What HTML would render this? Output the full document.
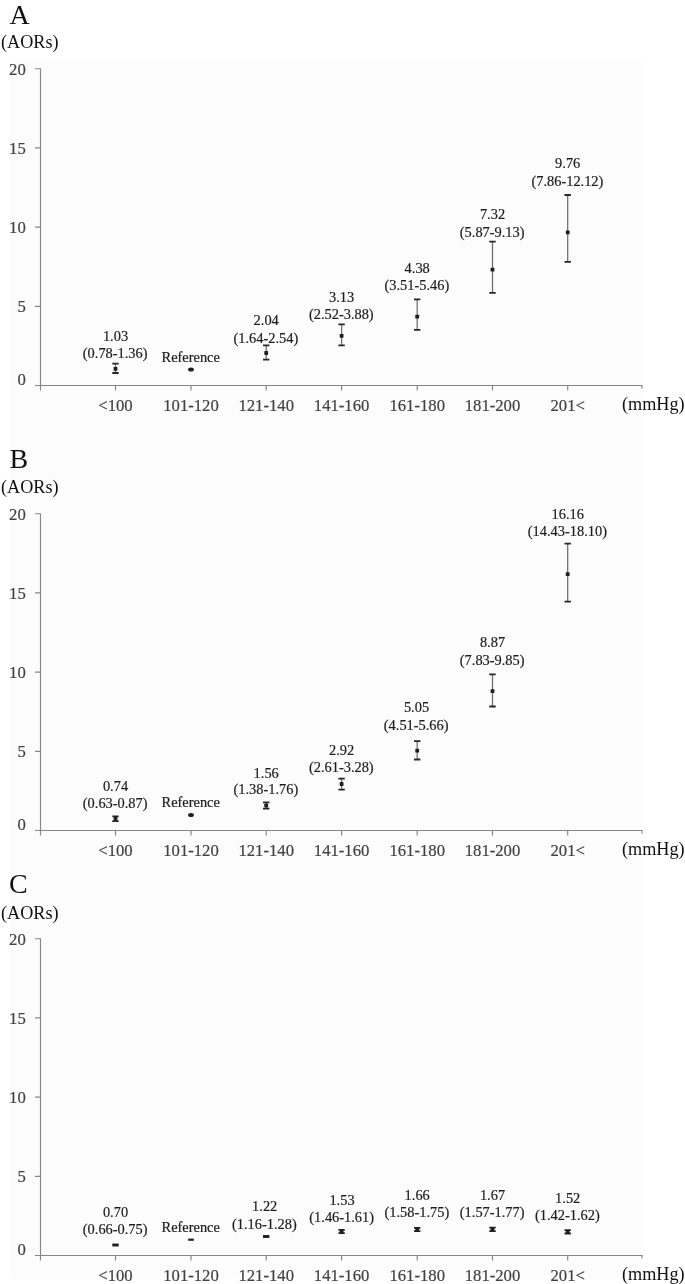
<!DOCTYPE html>
<html lang="en"><head><meta charset="utf-8"><title>AORs by blood pressure category</title>
<style>
html,body{margin:0;padding:0;background:#fff;}
body{width:685px;height:1284px;overflow:hidden;}
svg{display:block;font-family:"Liberation Serif","DejaVu Serif",serif;}
.pl{font-size:28px;fill:#111;}
.ul{font-size:18.2px;fill:#111;}
.ax{font-size:16.7px;fill:#424242;stroke:#424242;stroke-width:0.2px;}
.dl{font-size:14.4px;fill:#1c1c1c;stroke:#1c1c1c;stroke-width:0.2px;text-anchor:middle;}
.axl{stroke:#868686;stroke-width:1.15;fill:none;}
.eb{stroke:#6c6c6c;stroke-width:1.25;fill:none;}
.cap{stroke:#262626;stroke-width:1.8;fill:none;}
.mk{fill:#1e1e1e;}
</style></head><body>
<svg width="685" height="1284" viewBox="0 0 685 1284">
<rect x="10" y="62" width="632.5" height="1217" fill="#fcfcfc"/>
<g>
<text class="pl" x="9.5" y="24.0">A</text>
<text class="ul" x="1" y="48.4">(AORs)</text>
<path class="axl" d="M40.5 68.5V390.5M35.0 385.5H642.5"/>
<path class="axl" d="M35.0 306.3H40.5M35.0 227.1H40.5M35.0 147.9H40.5M35.0 68.7H40.5"/>
<path class="axl" d="M115.5 385.5V390.5M191.0 385.5V390.5M266.2 385.5V390.5M341.6 385.5V390.5M417.2 385.5V390.5M492.5 385.5V390.5M567.7 385.5V390.5M642.0 385.5V388.5"/>
<text class="ax" x="25.8" y="385.3" text-anchor="end">0</text>
<text class="ax" x="25.8" y="312.2" text-anchor="end">5</text>
<text class="ax" x="25.8" y="233.0" text-anchor="end">10</text>
<text class="ax" x="25.8" y="153.8" text-anchor="end">15</text>
<text class="ax" x="25.8" y="74.6" text-anchor="end">20</text>
<text class="ax" x="115.5" y="410.7" text-anchor="middle">&lt;100</text>
<text class="ax" x="191.0" y="410.7" text-anchor="middle">101-120</text>
<text class="ax" x="266.2" y="410.7" text-anchor="middle">121-140</text>
<text class="ax" x="341.6" y="410.7" text-anchor="middle">141-160</text>
<text class="ax" x="417.2" y="410.7" text-anchor="middle">161-180</text>
<text class="ax" x="492.5" y="410.7" text-anchor="middle">181-200</text>
<text class="ax" x="567.7" y="410.7" text-anchor="middle">201&lt;</text>
<text class="ul" x="622" y="410.3">(mmHg)</text>
<text class="dl" x="115.5" y="340.5">1.03</text>
<text class="dl" x="115.2" y="357.7">(0.78-1.36)</text>
<path class="eb" d="M115.5 363.7V373.0"/>
<path class="cap" d="M112.3 363.7H118.7M112.3 373.0H118.7"/>
<rect class="mk" x="113.6" y="367.0" width="3.8" height="3.8" rx="0.6"/>
<text class="dl" x="190.7" y="362.1">Reference</text>
<ellipse class="mk" cx="191.0" cy="369.5" rx="2.9" ry="2.05"/>
<text class="dl" x="266.2" y="325.0">2.04</text>
<text class="dl" x="265.9" y="342.6">(1.64-2.54)</text>
<path class="eb" d="M266.2 345.3V359.7"/>
<path class="cap" d="M263.0 345.3H269.4M263.0 359.7H269.4"/>
<rect class="mk" x="264.3" y="351.1" width="3.8" height="3.8" rx="0.6"/>
<text class="dl" x="341.6" y="301.5">3.13</text>
<text class="dl" x="341.3" y="318.6">(2.52-3.88)</text>
<path class="eb" d="M341.6 324.3V345.3"/>
<path class="cap" d="M338.4 324.3H344.8M338.4 345.3H344.8"/>
<rect class="mk" x="339.7" y="333.9" width="3.8" height="3.8" rx="0.6"/>
<text class="dl" x="417.2" y="272.5">4.38</text>
<text class="dl" x="416.9" y="289.5">(3.51-5.46)</text>
<path class="eb" d="M417.2 299.4V329.9"/>
<path class="cap" d="M414.0 299.4H420.4M414.0 329.9H420.4"/>
<rect class="mk" x="415.3" y="314.7" width="3.8" height="3.8" rx="0.6"/>
<text class="dl" x="492.5" y="218.7">7.32</text>
<text class="dl" x="492.2" y="236.7">(5.87-9.13)</text>
<path class="eb" d="M492.5 241.7V292.8"/>
<path class="cap" d="M489.3 241.7H495.7M489.3 292.8H495.7"/>
<rect class="mk" x="490.6" y="267.8" width="3.8" height="3.8" rx="0.6"/>
<text class="dl" x="567.7" y="168.4">9.76</text>
<text class="dl" x="567.4" y="185.7">(7.86-12.12)</text>
<path class="eb" d="M567.7 195.0V261.8"/>
<path class="cap" d="M564.5 195.0H570.9M564.5 261.8H570.9"/>
<rect class="mk" x="565.8" y="230.4" width="3.8" height="3.8" rx="0.6"/>
</g>
<g>
<text class="pl" x="9.5" y="467.7">B</text>
<text class="ul" x="1" y="493.4">(AORs)</text>
<path class="axl" d="M40.5 513.5V835.5M35.0 830.5H642.5"/>
<path class="axl" d="M35.0 751.3H40.5M35.0 672.1H40.5M35.0 592.9H40.5M35.0 513.7H40.5"/>
<path class="axl" d="M115.5 830.5V835.5M191.0 830.5V835.5M266.2 830.5V835.5M341.6 830.5V835.5M417.2 830.5V835.5M492.5 830.5V835.5M567.7 830.5V835.5M642.0 830.5V833.5"/>
<text class="ax" x="25.8" y="830.3" text-anchor="end">0</text>
<text class="ax" x="25.8" y="757.2" text-anchor="end">5</text>
<text class="ax" x="25.8" y="678.0" text-anchor="end">10</text>
<text class="ax" x="25.8" y="598.8" text-anchor="end">15</text>
<text class="ax" x="25.8" y="519.6" text-anchor="end">20</text>
<text class="ax" x="115.5" y="855.7" text-anchor="middle">&lt;100</text>
<text class="ax" x="191.0" y="855.7" text-anchor="middle">101-120</text>
<text class="ax" x="266.2" y="855.7" text-anchor="middle">121-140</text>
<text class="ax" x="341.6" y="855.7" text-anchor="middle">141-160</text>
<text class="ax" x="417.2" y="855.7" text-anchor="middle">161-180</text>
<text class="ax" x="492.5" y="855.7" text-anchor="middle">181-200</text>
<text class="ax" x="567.7" y="855.7" text-anchor="middle">201&lt;</text>
<text class="ul" x="622" y="855.3">(mmHg)</text>
<text class="dl" x="115.5" y="791.0">0.74</text>
<text class="dl" x="115.2" y="807.9">(0.63-0.87)</text>
<path class="eb" d="M115.5 816.3V821.2"/>
<path class="cap" d="M112.3 816.3H118.7M112.3 821.2H118.7"/>
<rect class="mk" x="113.6" y="816.8" width="3.8" height="3.8" rx="0.6"/>
<text class="dl" x="190.7" y="806.8">Reference</text>
<ellipse class="mk" cx="191.0" cy="815.0" rx="2.9" ry="2.05"/>
<text class="dl" x="266.2" y="777.5">1.56</text>
<text class="dl" x="265.9" y="794.1">(1.38-1.76)</text>
<path class="eb" d="M266.2 802.3V808.6"/>
<path class="cap" d="M263.0 802.3H269.4M263.0 808.6H269.4"/>
<rect class="mk" x="264.3" y="803.6" width="3.8" height="3.8" rx="0.6"/>
<text class="dl" x="341.6" y="755.2">2.92</text>
<text class="dl" x="341.3" y="772.4">(2.61-3.28)</text>
<path class="eb" d="M341.6 778.7V789.6"/>
<path class="cap" d="M338.4 778.7H344.8M338.4 789.6H344.8"/>
<rect class="mk" x="339.7" y="782.1" width="3.8" height="3.8" rx="0.6"/>
<text class="dl" x="416.5" y="712.1">5.05</text>
<text class="dl" x="416.2" y="729.6">(4.51-5.66)</text>
<path class="eb" d="M417.2 741.2V759.5"/>
<path class="cap" d="M414.0 741.2H420.4M414.0 759.5H420.4"/>
<rect class="mk" x="415.3" y="748.8" width="3.8" height="3.8" rx="0.6"/>
<text class="dl" x="492.5" y="647.3">8.87</text>
<text class="dl" x="492.2" y="664.8">(7.83-9.85)</text>
<path class="eb" d="M492.5 674.3V706.5"/>
<path class="cap" d="M489.3 674.3H495.7M489.3 706.5H495.7"/>
<rect class="mk" x="490.6" y="689.2" width="3.8" height="3.8" rx="0.6"/>
<text class="dl" x="567.7" y="518.7">16.16</text>
<text class="dl" x="567.4" y="536.3">(14.43-18.10)</text>
<path class="eb" d="M567.7 543.6V601.7"/>
<path class="cap" d="M564.5 543.6H570.9M564.5 601.7H570.9"/>
<rect class="mk" x="565.8" y="572.2" width="3.8" height="3.8" rx="0.6"/>
</g>
<g>
<text class="pl" x="9.0" y="893.3">C</text>
<text class="ul" x="1" y="918.6999999999999">(AORs)</text>
<path class="axl" d="M40.5 938.5V1260.5M35.0 1255.5H642.5"/>
<path class="axl" d="M35.0 1176.3H40.5M35.0 1097.1H40.5M35.0 1017.9H40.5M35.0 938.7H40.5"/>
<path class="axl" d="M115.5 1255.5V1260.5M191.0 1255.5V1260.5M266.2 1255.5V1260.5M341.6 1255.5V1260.5M417.2 1255.5V1260.5M492.5 1255.5V1260.5M567.7 1255.5V1260.5M642.0 1255.5V1258.5"/>
<text class="ax" x="25.8" y="1255.3" text-anchor="end">0</text>
<text class="ax" x="25.8" y="1182.2" text-anchor="end">5</text>
<text class="ax" x="25.8" y="1103.0" text-anchor="end">10</text>
<text class="ax" x="25.8" y="1023.8" text-anchor="end">15</text>
<text class="ax" x="25.8" y="944.6" text-anchor="end">20</text>
<text class="ax" x="115.5" y="1280.7" text-anchor="middle">&lt;100</text>
<text class="ax" x="191.0" y="1280.7" text-anchor="middle">101-120</text>
<text class="ax" x="266.2" y="1280.7" text-anchor="middle">121-140</text>
<text class="ax" x="341.6" y="1280.7" text-anchor="middle">141-160</text>
<text class="ax" x="417.2" y="1280.7" text-anchor="middle">161-180</text>
<text class="ax" x="492.5" y="1280.7" text-anchor="middle">181-200</text>
<text class="ax" x="567.7" y="1280.7" text-anchor="middle">201&lt;</text>
<text class="ul" x="622" y="1280.3">(mmHg)</text>
<text class="dl" x="115.5" y="1216.5">0.70</text>
<text class="dl" x="115.2" y="1234.1">(0.66-0.75)</text>
<rect class="mk" x="112.3" y="1243.55" width="6.4" height="2.9"/>
<text class="dl" x="190.7" y="1231.6">Reference</text>
<rect class="mk" x="188.2" y="1238.6" width="5.6" height="2.2"/>
<text class="dl" x="264.7" y="1210.6">1.22</text>
<text class="dl" x="264.4" y="1228.8">(1.16-1.28)</text>
<rect class="mk" x="263.0" y="1235.05" width="6.4" height="2.9"/>
<text class="dl" x="342.0" y="1204.8">1.53</text>
<text class="dl" x="341.7" y="1222.1">(1.46-1.61)</text>
<path class="eb" d="M341.6 1229.9V1233.1"/>
<path class="cap" d="M338.4 1229.9H344.8M338.4 1233.1H344.8"/>
<rect class="mk" x="339.7" y="1229.6" width="3.8" height="3.8" rx="0.6"/>
<text class="dl" x="417.2" y="1200.2">1.66</text>
<text class="dl" x="416.9" y="1217.4">(1.58-1.75)</text>
<path class="eb" d="M417.2 1227.8V1231.2"/>
<path class="cap" d="M414.0 1227.8H420.4M414.0 1231.2H420.4"/>
<rect class="mk" x="415.3" y="1227.6" width="3.8" height="3.8" rx="0.6"/>
<text class="dl" x="492.5" y="1200.2">1.67</text>
<text class="dl" x="492.2" y="1217.4">(1.57-1.77)</text>
<path class="eb" d="M492.5 1227.7V1231.1"/>
<path class="cap" d="M489.3 1227.7H495.7M489.3 1231.1H495.7"/>
<rect class="mk" x="490.6" y="1227.5" width="3.8" height="3.8" rx="0.6"/>
<text class="dl" x="567.7" y="1202.7">1.52</text>
<text class="dl" x="567.4" y="1220.1">(1.42-1.62)</text>
<path class="eb" d="M567.7 1230.1V1233.5"/>
<path class="cap" d="M564.5 1230.1H570.9M564.5 1233.5H570.9"/>
<rect class="mk" x="565.8" y="1229.9" width="3.8" height="3.8" rx="0.6"/>
</g>
</svg></body></html>
